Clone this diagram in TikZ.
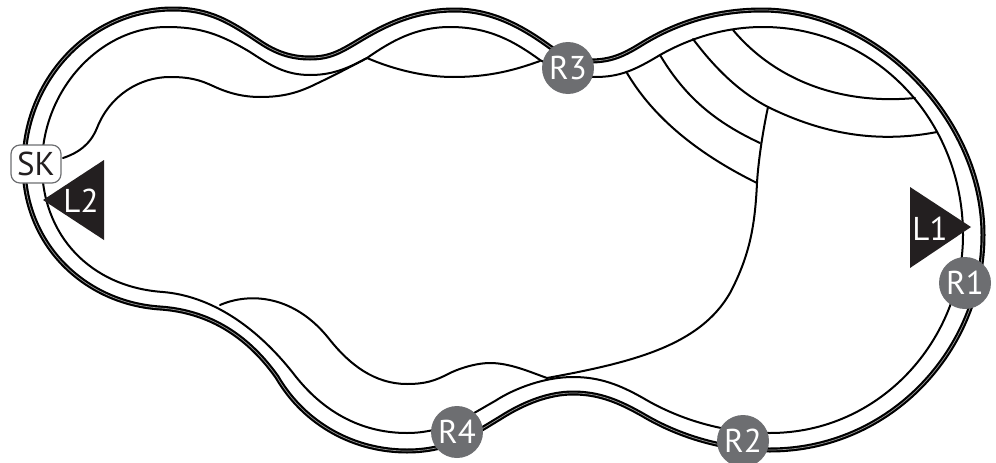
\documentclass[tikz,border=0pt]{standalone}
\usepackage{fontspec}
\setmainfont{PT Sans}
\definecolor{ink}{HTML}{231F20}
\definecolor{badge}{HTML}{6D6E71}
\tikzset{
  x=1pt,y=-1pt,
  wall/.style={line width=5pt,draw=black,line join=round},
  wallcore/.style={line width=0.7pt,draw=white!60!black},
  seam/.style={line width=2pt,draw=black,line cap=round},
  ret/.style={circle,fill=badge,minimum size=52pt,inner sep=0pt,text=white,font=\fontsize{33}{33}\selectfont},
  skim/.style={rectangle,rounded corners=9pt,draw=badge,line width=1.2pt,fill=white,minimum width=50pt,minimum height=38pt,inner sep=0pt,text=ink,font=\fontsize{33}{33}\selectfont},
  lamp/.style={fill=ink},
  lamplabel/.style={text=white,inner sep=0pt,font=\fontsize{33}{33}\selectfont},
}
\def\outerpath{(173,9) .. controls (91,9) and (24,79) .. (24,165)
 .. controls (24,245) and (85,303) .. (160,308)
 .. controls (205,311) and (245,332) .. (277,377)
 .. controls (305,425) and (355,451) .. (407,451)
 .. controls (450,451) and (475,433) .. (500,418)
 .. controls (525,402) and (550,393) .. (573,393)
 .. controls (600,393) and (620,402) .. (643,415)
 .. controls (680,437) and (725,450) .. (770,450)
 .. controls (890,450) and (983,350) .. (983,235)
 .. controls (983,120) and (878,10) .. (762,10)
 .. controls (712,10) and (672,25) .. (640,45)
 .. controls (622,56) and (610,61) .. (590,61)
 .. controls (575,61) and (562,55) .. (550,47)
 .. controls (520,25) and (490,10) .. (455,10)
 .. controls (415,10) and (385,25) .. (360,40)
 .. controls (340,52) and (330,58) .. (310,58)
 .. controls (290,58) and (275,52) .. (260,42)
 .. controls (230,22) and (210,9) .. (173,9) -- cycle}
\begin{document}
\begin{tikzpicture}
\useasboundingbox (0,0) rectangle (996,463);
\draw[wall] \outerpath;
\draw[wallcore] \outerpath;
\draw[seam] (167,27) .. controls (100,27) and (42,90) .. (42,165)
 .. controls (42,235) and (90,287) .. (163,292)
 .. controls (210,296) and (255,325) .. (293,373)
 .. controls (325,415) and (365,433) .. (407,433)
 .. controls (445,433) and (470,415) .. (495,401)
 .. controls (515,388) and (545,377) .. (573,377)
 .. controls (600,377) and (620,385) .. (643,398)
 .. controls (680,420) and (725,433) .. (770,433)
 .. controls (880,433) and (963,340) .. (963,235)
 .. controls (963,120) and (875,27) .. (763,27)
 .. controls (725,27) and (690,38) .. (660,55)
 .. controls (635,70) and (620,77) .. (595,77)
 .. controls (580,77) and (562,72) .. (540,60)
 .. controls (515,42) and (490,27) .. (450,27)
 .. controls (415,27) and (390,42) .. (367,58)
 .. controls (345,70) and (330,75) .. (310,75)
 .. controls (285,75) and (270,65) .. (250,52)
 .. controls (220,34) and (200,27) .. (167,27) -- cycle;
\coordinate (skend) at (63,158);
\coordinate (lensl) at (367,58);
\coordinate (lensr) at (540,61);
\coordinate (c1) at (627,73);
\coordinate (c2) at (660,55);
\coordinate (c3) at (693,39);
\coordinate (c4) at (733,30);
\coordinate (e1) at (757,183);
\coordinate (e2) at (760,143);
\coordinate (e3) at (768,107);
\coordinate (e3r) at (937,132);
\coordinate (e4) at (915,98);
\coordinate (b1) at (547,378);
\coordinate (b2) at (220,305);
\draw[seam] (skend) .. controls (78,153) and (90,145) .. (97,128)
 .. controls (110,95) and (140,77) .. (170,77)
 .. controls (190,77) and (200,80) .. (213,86)
 .. controls (230,94) and (245,97) .. (260,97)
 .. controls (285,97) and (300,92) .. (318,83)
 .. controls (335,75) and (350,67) .. (lensl);
\draw[seam] (lensl) .. controls (395,70) and (425,77) .. (453,77) .. controls (490,77) and (515,70) .. (lensr);
\draw[seam] (c1) .. controls (650,112) and (690,150) .. (e1);
\draw[seam] (c2) .. controls (685,97) and (715,122) .. (e2);
\draw[seam] (c3) .. controls (720,75) and (745,95) .. (e3) .. controls (815,130) and (870,145) .. (e3r);
\draw[seam] (c4) .. controls (775,80) and (840,105) .. (e4);
\draw[seam] (e3) .. controls (762,135) and (758,165) .. (e1)
 .. controls (755,225) and (750,255) .. (730,293)
 .. controls (700,345) and (635,362) .. (b1);
\draw[seam] (b2) .. controls (250,292) and (295,295) .. (330,340)
 .. controls (350,365) and (375,384) .. (407,384)
 .. controls (425,384) and (435,381) .. (450,373)
 .. controls (465,366) and (480,363) .. (490,363)
 .. controls (510,363) and (530,372) .. (b1);
\fill[lamp] (43,200) -- (104,160) -- (104,240) -- cycle;
\fill[lamp] (971,227) -- (910,187) -- (910,268) -- cycle;
\node[lamplabel] (l2) at (81,201) {L2};
\node[lamplabel] (l1) at (930,229) {L1};
\node[skim] (sk) at (36,164) {SK};
\node[ret] (r1) at (965,283) {R1};
\node[ret] (r2) at (743,441) {R2};
\node[ret] (r3) at (568,68) {R3};
\node[ret] (r4) at (457,432) {R4};
\end{tikzpicture}
\end{document}
